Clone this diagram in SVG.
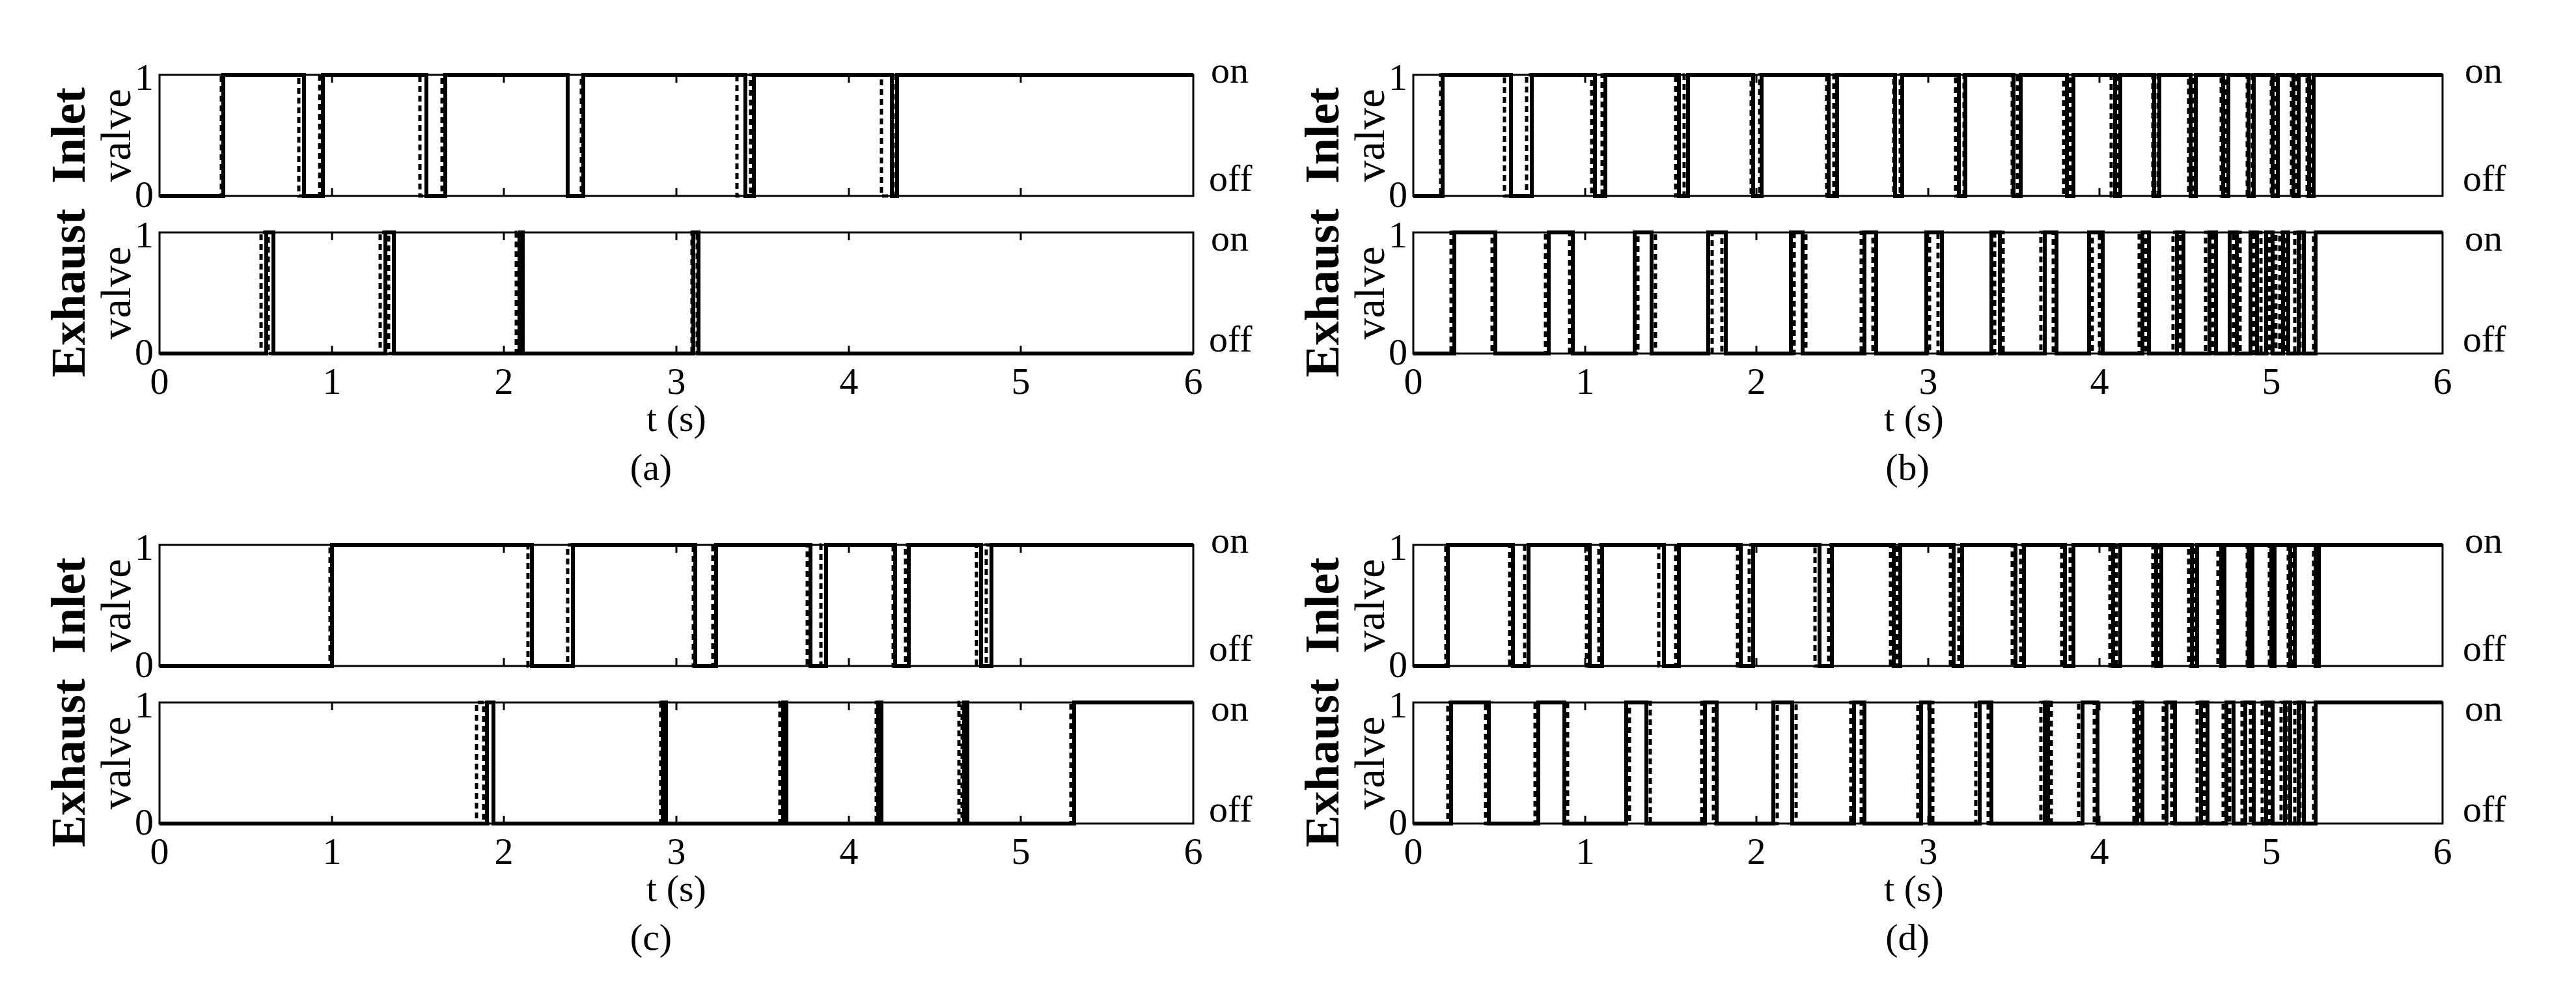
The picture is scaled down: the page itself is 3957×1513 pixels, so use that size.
<svg xmlns="http://www.w3.org/2000/svg" width="3957" height="1513" viewBox="0 0 3957 1513">
<style>
text{font-family:"Liberation Serif","Times New Roman",serif;fill:#000}
.t{font-size:58px;text-anchor:middle}
.yl{font-size:58px;text-anchor:end}
.r{font-size:58px;text-anchor:start}
.b{font-size:74px;font-weight:bold;text-anchor:middle}
.v{font-size:66px;text-anchor:middle}
.f,.s,.d{fill:none;stroke:#000;stroke-linejoin:miter}
.f{stroke-width:3}
.s{stroke-width:6}
.d{stroke-width:5;stroke-dasharray:9 6}
</style>

<g id="panel-a">
<rect class="f" x="245" y="115" width="1588" height="186"/>
<rect class="f" x="245" y="357" width="1588" height="186"/>
<path class="f" d="M510,115v12M774,115v12M1039,115v12M1304,115v12M1568,115v12M510,301v-12M774,301v-12M1039,301v-12M1304,301v-12M1568,301v-12M510,357v12M774,357v12M1039,357v12M1304,357v12M1568,357v12M510,543v-12M774,543v-12M1039,543v-12M1304,543v-12M1568,543v-12"/>
<path class="d" d="M245,301H340V115H459V301H491V115H645V301H679V115H872V301H893V115H1132V301H1153V115H1354V301H1372V115H1833"/>
<path class="s" d="M245,301H343V115H467V301H496V115H655V301H684V115H872V301H896V115H1145V301H1158V115H1370V301H1378V115H1833"/>
<path class="d" d="M245,543H401V357H412V543H584V357H597V543H793V357H801V543H1063V357H1071V543H1833"/>
<path class="s" d="M245,543H409V357H420V543H592V357H605V543H798V357H803V543H1065V357H1073V543H1833"/>
<text class="yl" x="236" y="138">1</text><text class="yl" x="236" y="318">0</text>
<text class="yl" x="236" y="380">1</text><text class="yl" x="236" y="560">0</text>
<text class="b" transform="translate(130,208) rotate(-90)">Inlet</text>
<text class="v" transform="translate(200,208) rotate(-90)">valve</text>
<text class="b" transform="translate(130,450) rotate(-90)">Exhaust</text>
<text class="v" transform="translate(200,450) rotate(-90)">valve</text>
<text class="r" x="1860" y="127">on</text><text class="r" x="1857" y="293">off</text>
<text class="r" x="1860" y="385">on</text><text class="r" x="1857" y="540">off</text>
<text class="t" x="245" y="605">0</text><text class="t" x="510" y="605">1</text><text class="t" x="774" y="605">2</text><text class="t" x="1039" y="605">3</text><text class="t" x="1304" y="605">4</text><text class="t" x="1568" y="605">5</text><text class="t" x="1833" y="605">6</text>
<text class="t" x="1039" y="662">t (s)</text>
<text class="t" x="1000" y="737">(a)</text>
</g>

<g id="panel-b">
<rect class="f" x="2171" y="115" width="1581" height="186"/>
<rect class="f" x="2171" y="357" width="1581" height="186"/>
<path class="f" d="M2435,115v12M2698,115v12M2962,115v12M3225,115v12M3489,115v12M2435,301v-12M2698,301v-12M2962,301v-12M3225,301v-12M3489,301v-12M2435,357v12M2698,357v12M2962,357v12M3225,357v12M3489,357v12M2435,543v-12M2698,543v-12M2962,543v-12M3225,543v-12M3489,543v-12"/>
<path class="d" d="M2171,301H2213V115H2311V301H2345V115H2445V301H2461V115H2574V301H2587V115H2690V301H2703V115H2806V301H2817V115H2909V301H2919V115H3004V301H3017V115H3091V301H3099V115H3170V301H3180V115H3243V301H3254V115H3307V301H3315V115H3362V301H3370V115H3412V301H3420V115H3452V301H3460V115H3489V301H3496V115H3520V301H3528V115H3544V301H3552V115H3752"/>
<path class="s" d="M2171,301H2216V115H2321V301H2353V115H2450V301H2466V115H2579V301H2593V115H2693V301H2706V115H2809V301H2822V115H2911V301H2922V115H3009V301H3019V115H3093V301H3104V115H3175V301H3185V115H3249V301H3257V115H3309V301H3317V115H3365V301H3373V115H3415V301H3423V115H3454V301H3462V115H3491V301H3499V115H3523V301H3531V115H3547V301H3554V115H3752"/>
<path class="d" d="M2171,543H2229V357H2292V543H2374V357H2411V543H2516V357H2543V543H2630V357H2645V543H2756V357H2774V543H2859V357H2877V543H2964V357H2977V543H3064V357H3077V543H3135V357H3154V543H3214V357H3225V543H3286V357H3296V543H3338V357H3349V543H3388V357H3399V543H3431V357H3441V543H3462V357H3473V543H3486V357H3496V543H3502V357H3510V543H3525V357H3533V543H3554V357H3752"/>
<path class="s" d="M2171,543H2234V357H2297V543H2379V357H2416V543H2511V357H2537V543H2624V357H2651V543H2751V357H2769V543H2864V357H2882V543H2959V357H2983V543H3059V357H3072V543H3141V357H3159V543H3209V357H3230V543H3291V357H3301V543H3344V357H3354V543H3394V357H3404V543H3425V357H3436V543H3457V357H3467V543H3481V357H3491V543H3507V357H3515V543H3531V357H3539V543H3557V357H3752"/>
<text class="yl" x="2162" y="138">1</text><text class="yl" x="2162" y="318">0</text>
<text class="yl" x="2162" y="380">1</text><text class="yl" x="2162" y="560">0</text>
<text class="b" transform="translate(2056,208) rotate(-90)">Inlet</text>
<text class="v" transform="translate(2126,208) rotate(-90)">valve</text>
<text class="b" transform="translate(2056,450) rotate(-90)">Exhaust</text>
<text class="v" transform="translate(2126,450) rotate(-90)">valve</text>
<text class="r" x="3786" y="127">on</text><text class="r" x="3783" y="293">off</text>
<text class="r" x="3786" y="385">on</text><text class="r" x="3783" y="540">off</text>
<text class="t" x="2171" y="605">0</text><text class="t" x="2435" y="605">1</text><text class="t" x="2698" y="605">2</text><text class="t" x="2962" y="605">3</text><text class="t" x="3225" y="605">4</text><text class="t" x="3489" y="605">5</text><text class="t" x="3752" y="605">6</text>
<text class="t" x="2940" y="662">t (s)</text>
<text class="t" x="2930" y="737">(b)</text>
</g>

<g id="panel-c">
<rect class="f" x="245" y="837" width="1588" height="186"/>
<rect class="f" x="245" y="1079" width="1588" height="186"/>
<path class="f" d="M510,837v12M774,837v12M1039,837v12M1304,837v12M1568,837v12M510,1023v-12M774,1023v-12M1039,1023v-12M1304,1023v-12M1568,1023v-12M510,1079v12M774,1079v12M1039,1079v12M1304,1079v12M1568,1079v12M510,1265v-12M774,1265v-12M1039,1265v-12M1304,1265v-12M1568,1265v-12"/>
<path class="d" d="M245,1023H507V837H811V1023H872V837H1065V1023H1095V837H1240V1023H1261V837H1372V1023H1391V837H1500V1023H1515V837H1833"/>
<path class="s" d="M245,1023H510V837H817V1023H880V837H1068V1023H1100V837H1245V1023H1269V837H1375V1023H1396V837H1507V1023H1523V837H1833"/>
<path class="d" d="M245,1265H732V1079H743V1265H1015V1079H1020V1265H1198V1079H1203V1265H1346V1079H1351V1265H1473V1079H1478V1265H1645V1079H1833"/>
<path class="s" d="M245,1265H748V1079H758V1265H1018V1079H1023V1265H1203V1079H1208V1265H1349V1079H1354V1265H1481V1079H1486V1265H1650V1079H1833"/>
<text class="yl" x="236" y="860">1</text><text class="yl" x="236" y="1040">0</text>
<text class="yl" x="236" y="1102">1</text><text class="yl" x="236" y="1282">0</text>
<text class="b" transform="translate(130,930) rotate(-90)">Inlet</text>
<text class="v" transform="translate(200,930) rotate(-90)">valve</text>
<text class="b" transform="translate(130,1172) rotate(-90)">Exhaust</text>
<text class="v" transform="translate(200,1172) rotate(-90)">valve</text>
<text class="r" x="1860" y="849">on</text><text class="r" x="1857" y="1015">off</text>
<text class="r" x="1860" y="1107">on</text><text class="r" x="1857" y="1262">off</text>
<text class="t" x="245" y="1327">0</text><text class="t" x="510" y="1327">1</text><text class="t" x="774" y="1327">2</text><text class="t" x="1039" y="1327">3</text><text class="t" x="1304" y="1327">4</text><text class="t" x="1568" y="1327">5</text><text class="t" x="1833" y="1327">6</text>
<text class="t" x="1039" y="1384">t (s)</text>
<text class="t" x="1000" y="1459">(c)</text>
</g>

<g id="panel-d">
<rect class="f" x="2171" y="837" width="1581" height="186"/>
<rect class="f" x="2171" y="1079" width="1581" height="186"/>
<path class="f" d="M2435,837v12M2698,837v12M2962,837v12M3225,837v12M3489,837v12M2435,1023v-12M2698,1023v-12M2962,1023v-12M3225,1023v-12M3489,1023v-12M2435,1079v12M2698,1079v12M2962,1079v12M3225,1079v12M3489,1079v12M2435,1265v-12M2698,1265v-12M2962,1265v-12M3225,1265v-12M3489,1265v-12"/>
<path class="d" d="M2171,1023H2221V837H2319V1023H2342V837H2437V1023H2456V837H2548V1023H2574V837H2669V1023H2687V837H2788V1023H2809V837H2904V1023H2914V837H2996V1023H3009V837H3091V1023H3104V837H3167V1023H3180V837H3241V1023H3251V837H3307V1023H3315V837H3362V1023H3370V837H3407V1023H3415V837H3452V1023H3457V837H3486V1023H3491V837H3515V1023H3523V837H3554V1023H3560V837H3752"/>
<path class="s" d="M2171,1023H2224V837H2324V1023H2348V837H2442V1023H2461V837H2556V1023H2579V837H2674V1023H2693V837H2795V1023H2814V837H2909V1023H2919V837H3001V1023H3014V837H3096V1023H3109V837H3172V1023H3185V837H3246V1023H3257V837H3312V1023H3320V837H3367V1023H3375V837H3412V1023H3417V837H3454V1023H3460V837H3489V1023H3494V837H3518V1023H3525V837H3557V1023H3562V837H3752"/>
<path class="d" d="M2171,1265H2224V1079H2282V1265H2358V1079H2408V1265H2503V1079H2535V1265H2614V1079H2632V1265H2730V1079H2759V1265H2843V1079H2859V1265H2946V1079H2969V1265H3035V1079H3054V1265H3135V1079H3151V1265H3193V1079H3217V1265H3278V1079H3286V1265H3323V1079H3336V1265H3375V1079H3386V1265H3415V1079H3425V1265H3444V1079H3457V1265H3475V1079H3486V1265H3504V1079H3512V1265H3525V1079H3533V1265H3554V1079H3752"/>
<path class="s" d="M2171,1265H2229V1079H2287V1265H2363V1079H2403V1265H2498V1079H2529V1265H2619V1079H2637V1265H2724V1079H2753V1265H2848V1079H2864V1265H2951V1079H2964V1265H3041V1079H3059V1265H3141V1079H3146V1265H3199V1079H3222V1265H3283V1079H3291V1265H3328V1079H3341V1265H3381V1079H3391V1265H3420V1079H3431V1265H3449V1079H3462V1265H3481V1079H3491V1265H3510V1079H3518V1265H3531V1079H3539V1265H3557V1079H3752"/>
<text class="yl" x="2162" y="860">1</text><text class="yl" x="2162" y="1040">0</text>
<text class="yl" x="2162" y="1102">1</text><text class="yl" x="2162" y="1282">0</text>
<text class="b" transform="translate(2056,930) rotate(-90)">Inlet</text>
<text class="v" transform="translate(2126,930) rotate(-90)">valve</text>
<text class="b" transform="translate(2056,1172) rotate(-90)">Exhaust</text>
<text class="v" transform="translate(2126,1172) rotate(-90)">valve</text>
<text class="r" x="3786" y="849">on</text><text class="r" x="3783" y="1015">off</text>
<text class="r" x="3786" y="1107">on</text><text class="r" x="3783" y="1262">off</text>
<text class="t" x="2171" y="1327">0</text><text class="t" x="2435" y="1327">1</text><text class="t" x="2698" y="1327">2</text><text class="t" x="2962" y="1327">3</text><text class="t" x="3225" y="1327">4</text><text class="t" x="3489" y="1327">5</text><text class="t" x="3752" y="1327">6</text>
<text class="t" x="2940" y="1384">t (s)</text>
<text class="t" x="2930" y="1459">(d)</text>
</g>
</svg>
